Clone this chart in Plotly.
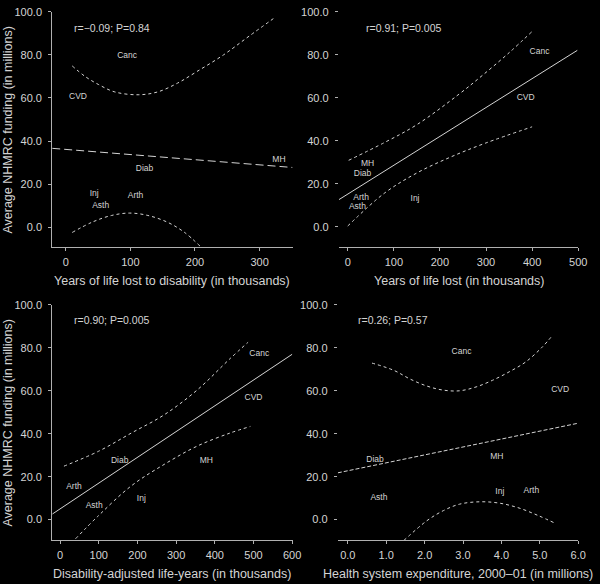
"""
NHMRC funding against burden of disease measures: four scatter panels
with fitted line and confidence band.
"""

import plotly.graph_objects as go

# --- Data ---
diseases = ["Canc", "CVD", "MH", "Diab", "Inj", "Arth", "Asth"]

# panel 1: years of life lost to disability (thousands)
yld_x = [95, 19, 330, 122, 44, 108, 54]
yld_y = [79.5, 60.3, 31.2, 27.2, 15.4, 14.3, 10.0]
yld_fit_x = [-21, 351]
yld_fit_y = [36.6, 27.7]
yld_up_x = [10, 30, 51, 76, 112, 142, 173, 203, 244, 284, 325]
yld_up_y = [74.9, 70.0, 66.2, 62.8, 61.5, 62.8, 66.9, 72.3, 80.0, 88.8, 97.7]
yld_lo_x = [10, 41, 71, 99, 127, 157, 183, 209]
yld_lo_y = [-2.5, 2.3, 5.4, 6.5, 5.4, 2.3, -2.3, -9.2]

# panel 2: years of life lost (thousands)
yll_x = [416, 386, 43, 32, 146, 29, 21]
yll_y = [81.6, 60.1, 29.4, 24.8, 13.0, 13.5, 9.2]
yll_fit_x = [-19, 498]
yll_fit_y = [12.6, 82.1]
yll_up_x = [2, 79, 150, 239, 293, 350, 404]
yll_up_y = [30.9, 39.1, 47.5, 61.3, 70.6, 81.0, 91.7]
yll_lo_x = [0, 79, 150, 224, 300, 400]
yll_lo_y = [0.3, 15.5, 25.0, 32.5, 39.0, 46.5]

# panel 3: disability-adjusted life-years (thousands)
daly_x = [515, 500, 378, 154, 210, 36, 88]
daly_y = [77.2, 56.8, 27.2, 27.2, 9.5, 15.2, 6.5]
daly_fit_x = [-20, 600]
daly_fit_y = [2.6, 77.0]
daly_up_x = [10, 99, 184, 269, 354, 439, 486]
daly_up_y = [24.9, 31.8, 40.3, 48.8, 60.3, 74.9, 82.6]
daly_lo_x = [40, 99, 184, 269, 354, 439, 492]
daly_lo_y = [-8.9, 1.8, 15.7, 25.7, 34.2, 40.3, 43.4]

# panel 4: health system expenditure 2000-01 (millions)
hse_x = [2.96, 5.53, 3.88, 0.71, 3.96, 4.78, 0.81]
hse_y = [78.0, 60.3, 29.2, 27.7, 13.1, 13.4, 10.3]
hse_fit_x = [-0.26, 6.0]
hse_fit_y = [21.8, 44.9]
hse_up_x = [0.63, 1.2, 1.63, 2.06, 2.49, 2.91, 3.34, 3.77, 4.2, 4.63, 5.06, 5.34]
hse_up_y = [72.9, 69.5, 65.4, 62.2, 60.3, 60.0, 61.8, 64.9, 68.8, 73.4, 80.3, 86.0]
hse_lo_x = [1.46, 2.06, 2.49, 2.91, 3.43, 3.94, 4.46, 4.97, 5.4]
hse_lo_y = [-9.7, -0.5, 4.2, 7.2, 8.3, 7.7, 5.4, 1.8, -1.7]

stats = ["r=−0.09; P=0.84", "r=0.91; P=0.005", "r=0.90; P=0.005", "r=0.26; P=0.57"]
x_titles = [
    "Years of life lost to disability (in thousands)",
    "Years of life lost (in thousands)",
    "Disability-adjusted life-years (in thousands)",
    "Health system expenditure, 2000–01 (in millions)",
]
y_title = "Average NHMRC funding (in millions)"

FG = "#d4d4d4"
FONT = "Liberation Sans, Arial, sans-serif"
W, H = 600, 584

panels = [
    (yld_x, yld_y, yld_fit_x, yld_fit_y, yld_up_x, yld_up_y, yld_lo_x, yld_lo_y, "8px,4px"),
    (yll_x, yll_y, yll_fit_x, yll_fit_y, yll_up_x, yll_up_y, yll_lo_x, yll_lo_y, "solid"),
    (daly_x, daly_y, daly_fit_x, daly_fit_y, daly_up_x, daly_up_y, daly_lo_x, daly_lo_y, "solid"),
    (hse_x, hse_y, hse_fit_x, hse_fit_y, hse_up_x, hse_up_y, hse_lo_x, hse_lo_y, "4px,2px"),
]

fig = go.Figure()
for i, (px, py, fx, fy, ux, uy, lx, ly, dash) in enumerate(panels):
    ax = "" if i == 0 else str(i + 1)
    xa, ya = "x" + ax, "y" + ax
    fig.add_trace(go.Scatter(x=ux, y=uy, mode="lines", line=dict(color=FG, width=1, dash="dot", shape="spline"),
                             xaxis=xa, yaxis=ya, showlegend=False))
    fig.add_trace(go.Scatter(x=lx, y=ly, mode="lines", line=dict(color=FG, width=1, dash="dot", shape="spline"),
                             xaxis=xa, yaxis=ya, showlegend=False))
    fig.add_trace(go.Scatter(x=fx, y=fy, mode="lines", line=dict(color=FG, width=1, dash=dash),
                             xaxis=xa, yaxis=ya, showlegend=False))
    fig.add_trace(go.Scatter(x=px, y=py, mode="text", text=diseases,
                             textfont=dict(color=FG, size=8.5, family=FONT),
                             xaxis=xa, yaxis=ya, showlegend=False))

# pixel boxes of the four plot areas: (left, right, top, bottom)
boxes = [(53, 297, 6, 244), (344, 587, 6, 244), (53, 297, 302, 540), (343, 587, 302, 540)]
x_ranges = [[-21, 351], [-19.3, 500], [-20.4, 601], [-0.26, 6.0]]
x_ticks = [[0, 100, 200, 300], [0, 100, 200, 300, 400, 500],
           [0, 100, 200, 300, 400, 500, 600], [0, 1, 2, 3, 4, 5, 6]]
y_ranges = [[-9.5, 100], [-9.7, 100], [-9.7, 100], [-9.7, 100]]
stat_pos = [(114, 22), (410, 22), (113, 317), (399, 317)]

layout = dict(
    width=W, height=H,
    margin=dict(l=0, r=0, t=0, b=0),
    paper_bgcolor="black", plot_bgcolor="black",
    font=dict(family=FONT, color=FG, size=10),
    annotations=[],
)
for i, (l, r, t, b) in enumerate(boxes):
    ax = "" if i == 0 else str(i + 1)
    layout["xaxis" + ax] = dict(
        domain=[l / W, r / W], range=x_ranges[i], tickvals=x_ticks[i],
        tickformat=".1f" if i == 3 else "d",
        showline=True, linecolor="#b0b0b0", linewidth=1,
        ticks="outside", ticklen=3, tickcolor="#b0b0b0", ticklabelstandoff=1,
        showgrid=False, zeroline=False, anchor="y" + ax,
        tickfont=dict(size=11, color=FG),
    )
    layout["yaxis" + ax] = dict(
        domain=[1 - b / H, 1 - t / H], range=y_ranges[i], tickvals=[0, 20, 40, 60, 80, 100],
        tickformat=".1f", showline=(i % 2 == 0), linecolor="#b0b0b0", linewidth=1,
        ticks="outside", ticklen=3, tickcolor="#b0b0b0", ticklabelstandoff=4,
        showgrid=False, zeroline=False, anchor="x" + ax,
        tickfont=dict(size=11, color=FG),
    )
    layout["annotations"].append(dict(
        x=(l + r) / 2 / W, y=1 - (b + 34) / H, xref="paper", yref="paper",
        xanchor="center", yanchor="middle",
        text=x_titles[i], showarrow=False, font=dict(size=12.5, color=FG),
    ))
    sx, sy = stat_pos[i]
    layout["annotations"].append(dict(
        x=sx / W, y=1 - sy / H, xref="paper", yref="paper",
        xanchor="center", yanchor="middle",
        text=stats[i], showarrow=False, font=dict(size=10.5, color=FG),
    ))
    if i % 2 == 0:
        layout["annotations"].append(dict(
            x=8 / W, y=1 - (t + b) / 2 / H, xref="paper", yref="paper",
            xanchor="center", yanchor="middle",
            text=y_title, textangle=-90, showarrow=False, font=dict(size=12.5, color=FG),
        ))

fig.update_layout(**layout)
# drop the page's default body margin so the figure sits at the window corner
fig.write_html("out.html", config={"displayModeBar": False},
               post_script="document.body.style.margin='0';")
